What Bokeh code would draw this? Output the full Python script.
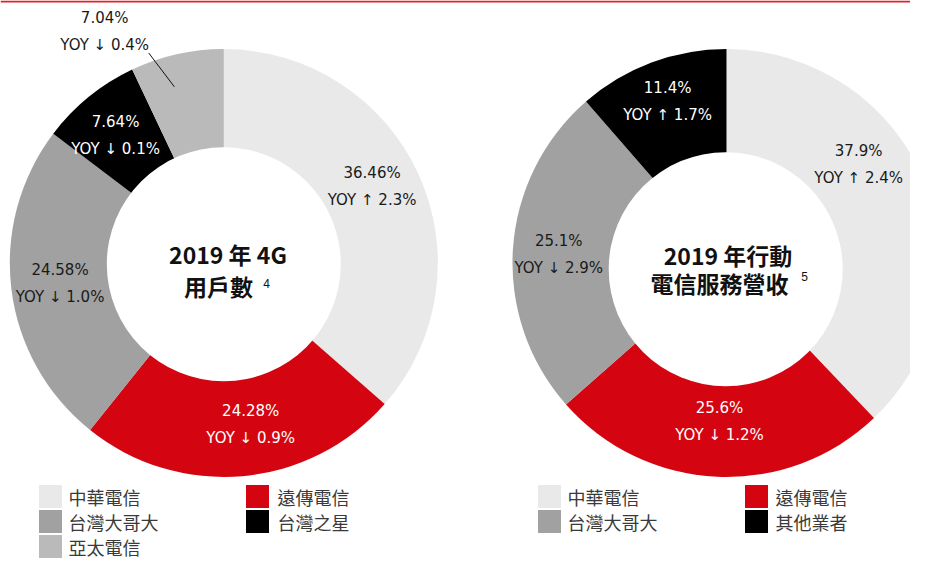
import numpy as np
from bokeh.plotting import figure
from bokeh.models import Range1d, ColumnDataSource
from bokeh.core.properties import value
from bokeh.embed import file_html
from bokeh.resources import INLINE

# ---------------- data ----------------
left_categories = ["中華電信", "遠傳電信", "台灣大哥大", "台灣之星", "亞太電信"]
left_shares = [36.46, 24.28, 24.58, 7.64, 7.04]
left_share_labels = ["36.46%", "24.28%", "24.58%", "7.64%", "7.04%"]
left_yoy = ["YOY ↑ 2.3%", "YOY ↓ 0.9%", "YOY ↓ 1.0%", "YOY ↓ 0.1%", "YOY ↓ 0.4%"]
left_title = ["2019 年 4G", "用戶數"]
left_note = "4"

right_categories = ["中華電信", "遠傳電信", "台灣大哥大", "其他業者"]
right_shares = [37.9, 25.6, 25.1, 11.4]
right_share_labels = ["37.9%", "25.6%", "25.1%", "11.4%"]
right_yoy = ["YOY ↑ 2.4%", "YOY ↓ 1.2%", "YOY ↓ 2.9%", "YOY ↑ 1.7%"]
right_title = ["2019 年行動", "電信服務營收"]
right_note = "5"

# ---------------- style ----------------
COLORS = {
    "中華電信": "#e8e9e8",
    "遠傳電信": "#d40511",
    "台灣大哥大": "#a0a1a0",
    "台灣之星": "#000000",
    "亞太電信": "#b9bab9",
    "其他業者": "#000000",
}
LABEL_COLORS = {
    "中華電信": "#1a1a1a",
    "遠傳電信": "#ffffff",
    "台灣大哥大": "#1a1a1a",
    "台灣之星": "#ffffff",
    "亞太電信": "#1a1a1a",
    "其他業者": "#ffffff",
}
NUM_FONT = value("DejaVu Sans")
CJK_FONT = value("Noto Sans CJK TC")

W, H = 910, 561


def Y(sy):
    # convert a pixel row (from the top) into data y (y axis points up)
    return H - sy


p = figure(width=W, height=H, x_range=Range1d(0, W), y_range=Range1d(0, H),
           output_backend="svg", toolbar_location=None,
           x_axis_location=None, y_axis_location=None, min_border=0)
p.grid.visible = False
p.outline_line_color = None
p.background_fill_color = "white"
p.border_fill_color = "white"

# thin red rule at the very top
p.segment(x0=0, y0=Y(1), x1=W, y1=Y(1), line_color="#e3202c", line_width=2)

R_OUT = 214
R_IN = 117


def donut(cx, cy, icx, icy, cats, shares, share_labels, yoy, nudges, radii, callout=None):
    s = np.array(shares, dtype=float)
    frac = s / s.sum()
    c1 = np.cumsum(frac)
    c0 = c1 - frac
    start = np.pi / 2 - 2 * np.pi * c0
    end = np.pi / 2 - 2 * np.pi * c1
    src = ColumnDataSource(dict(start=start, end=end,
                                color=[COLORS[c] for c in cats]))
    p.wedge(x=cx, y=Y(cy), radius=R_OUT, start_angle="start", end_angle="end",
            direction="clock", fill_color="color", line_color=None, source=src)
    p.circle(x=icx, y=Y(icy), radius=R_IN, fill_color="white", line_color=None)

    mid_deg = 360 * (c0 + c1) / 2  # clockwise from top
    xs, ys1, ys2, cols = [], [], [], []
    for i, cat in enumerate(cats):
        if callout is not None and i == callout[0]:
            _, a_in, r_in_, a_out, r_out_, a_lab, r_lab = callout
            m = mid_deg[i]
            ax = cx + r_in_ * np.sin(np.radians(m + a_in))
            ay = cy - r_in_ * np.cos(np.radians(m + a_in))
            bx = cx + r_out_ * np.sin(np.radians(m + a_out))
            by = cy - r_out_ * np.cos(np.radians(m + a_out))
            p.segment(x0=ax, y0=Y(ay), x1=bx, y1=Y(by), line_color="#111111", line_width=1)
            th = np.radians(m + a_lab)
            lx = cx + r_lab * np.sin(th)
            ly = cy - r_lab * np.cos(th)
        else:
            th = np.radians(mid_deg[i] + nudges[i])
            lx = cx + radii[i] * np.sin(th)
            ly = cy - radii[i] * np.cos(th)
        xs.append(lx)
        ys1.append(Y(ly - 13.5))
        ys2.append(Y(ly + 13.5))
        cols.append(LABEL_COLORS[cat])
    lsrc = ColumnDataSource(dict(x=xs, y1=ys1, y2=ys2, t1=share_labels, t2=yoy, c=cols))
    for yk, tk in (("y1", "t1"), ("y2", "t2")):
        p.text(x="x", y=yk, text=tk, source=lsrc, text_color="c",
               text_align="center", text_baseline="middle",
               text_font=NUM_FONT, text_font_size=value("15px"))


donut(223.3, 262.5, 223.3, 263.7, left_categories, left_shares, left_share_labels, left_yoy,
      nudges=[-3, -4.4, 0, -1.3, 0], radii=[167, 164, 165, 167, 0],
      callout=(4, -3, 183, -7, 223, -14.6, 260))
donut(726, 262.5, 725.2, 268.7, right_categories, right_shares, right_share_labels, right_yoy,
      nudges=[-15, 0, -0.8, 0.5], radii=[165, 159, 168, 172])


# center titles
def title(lines, note, positions, note_pos):
    for (x, y), t in zip(positions, lines):
        p.text(x=[x], y=[Y(y)], text=[t], text_align="center", text_baseline="middle",
               text_font=CJK_FONT, text_font_size=value("23px"), text_font_style="bold",
               text_color="#111111")
    p.text(x=[note_pos[0]], y=[Y(note_pos[1])], text=[note], text_align="center",
           text_baseline="middle", text_font=value("Liberation Sans"),
           text_font_size=value("12px"), text_color="#111111")


title(left_title, left_note, [(227.5, 253), (218, 285)], (266, 283))
title(right_title, right_note, [(727.5, 254), (719, 282.5)], (804, 276))


# legends
def legend(cats, sq_x, tx_x):
    rows = [i // 2 for i in range(len(cats))]
    cols = [i % 2 for i in range(len(cats))]
    ys = [Y(496 + 25 * r) for r in rows]
    src = ColumnDataSource(dict(
        sx=[sq_x[c] for c in cols], tx=[tx_x[c] for c in cols], y=ys,
        color=[COLORS[c] for c in cats], name=cats))
    p.rect(x="sx", y="y", width=23, height=23, fill_color="color", line_color=None, source=src)
    p.text(x="tx", y="y", text="name", source=src, text_align="left", text_baseline="middle",
           text_font=CJK_FONT, text_font_size=value("18px"), text_color="#3a3a3a")


legend(left_categories, [50, 257], [68, 277])
legend(right_categories, [549, 756], [567, 775])

open("out.html", "w").write(file_html(p, INLINE))
